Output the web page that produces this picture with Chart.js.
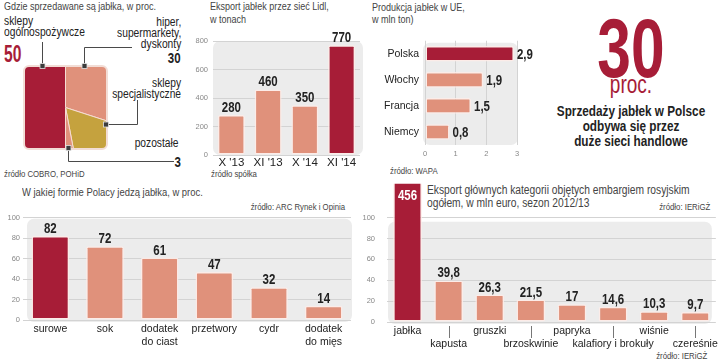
<!DOCTYPE html>
<html>
<head>
<meta charset="utf-8">
<script src="https://cdn.jsdelivr.net/npm/chart.js@4.4.1/dist/chart.umd.min.js"></script>
<style>
  body { margin: 0; width: 720px; height: 362px; background: #fff; position: relative; overflow: hidden;
         font-family: 'Liberation Sans', Arial, sans-serif; color: #222; }
  .t { position: absolute; white-space: pre; transform: scaleX(0.82); transform-origin: left; }
  .r { transform-origin: right; text-align: right; }
  .c { transform-origin: center; text-align: center; left: 531px; width: 200px; }
  .title { font-size: 11px; line-height: 12px; color: #444; }
  .src { font-size: 9.5px; line-height: 10px; color: #444; }
  .lbl { font-size: 12.5px; line-height: 11px; }
  .num { font-size: 14px; line-height: 14px; font-weight: bold; }
  canvas { position: absolute; }
</style>
</head>
<body>

<!-- texts -->
<div class="t title" style="left:4px;top:0">Gdzie sprzedawane są jabłka, w proc.</div>
<div class="t lbl" style="left:4px;top:16px">sklepy
ogólnospożywcze</div>
<div class="t" style="left:4px;top:42.5px;font-size:23px;line-height:23px;font-weight:bold;color:#a71d37;transform:scaleX(0.68)">50</div>
<div class="t lbl r" style="right:539px;top:16.5px">hiper,
supermarkety,
dyskonty</div>
<div class="t num r" style="right:539px;top:51.4px">30</div>
<div class="t lbl r" style="right:539px;top:78.3px">sklepy
specjalistyczne</div>
<div class="t lbl r" style="right:541px;top:137.5px">pozostałe</div>
<div class="t num r" style="right:539px;top:154.8px">3</div>
<div class="t src" style="left:4px;top:168.7px">źródło COBRO, POHiD</div>

<div class="t title" style="left:210px;top:0.4px;line-height:12.5px">Eksport jabłek przez sieć Lidl,
w tonach</div>
<div class="t src" style="left:211px;top:168.7px">źródło spółka</div>

<div class="t title" style="left:372px;top:0.7px">Produkcja jabłek w UE,
w mln ton)</div>
<div class="t src" style="left:390px;top:166.2px">źródło: WAPA</div>

<div class="t c" style="top:5.9px;font-size:84px;line-height:84px;font-weight:bold;color:#a71d37;transform:scaleX(0.72)">30</div>
<div class="t c" style="top:72.1px;font-size:25px;line-height:25px;color:#a71d37;transform:scaleX(0.76)">proc.</div>
<div class="t c" style="top:103.7px;font-size:14px;line-height:15px;font-weight:bold;color:#222;transform:scaleX(0.84)">Sprzedaży jabłek w Polsce
odbywa się przez
duże sieci handlowe</div>

<div class="t title" style="left:22px;top:185.7px;font-size:11.5px">W jakiej formie Polacy jedzą jabłka, w proc.</div>
<div class="t src r" style="right:375px;top:201.7px">źródło: ARC Rynek i Opinia</div>

<div class="t title" style="left:427px;top:184.2px;font-size:12.5px;line-height:13.3px">Eksport głównych kategorii objętych embargiem rosyjskim
ogółem, w mln euro, sezon 2012/13</div>
<div class="t src r" style="right:10px;top:201.7px">źródło: IERiGŻ</div>
<div class="t src r" style="right:13px;top:350.7px">źródło: IERiGŻ</div>

<!-- charts -->
<canvas id="shops" width="119" height="119" style="left:6px;top:48px"></canvas>
<canvas id="lidl" width="175" height="150" style="left:190px;top:30px"></canvas>
<canvas id="eu" width="180" height="131" style="left:365px;top:28px"></canvas>
<canvas id="forms" width="358" height="145" style="left:0;top:205px"></canvas>
<canvas id="emb" width="360" height="176" style="left:360px;top:178px"></canvas>

<!-- leader lines of the square pie -->
<svg width="720" height="362" style="position:absolute;left:0;top:0">
  <g stroke="#4a4a4a" stroke-width="1" fill="none">
    <path d="M42.5 66V42"/>
    <path d="M84.5 66V47.5H132"/>
    <path d="M106 124.5H137.5V100"/>
    <path d="M68.5 148V161.5H174"/>
  </g>
  <g fill="#3c3c3c" stroke="#e4e4e4" stroke-width="0.8">
    <rect x="40" y="63.5" width="5" height="5"/>
    <rect x="82" y="63.5" width="5" height="5"/>
    <rect x="103.5" y="122" width="5" height="5"/>
    <rect x="66" y="145.5" width="5" height="5"/>
  </g>
</svg>

<script>
// *** data for display ***
const SHOP_LABELS = ["hiper, supermarkety, dyskonty", "sklepy specjalistyczne", "pozostałe", "sklepy ogólnospożywcze"];
const SHOP_VALUES = [30, 17, 3, 50];

const LIDL_LABELS = ["X '13", "XI '13", "X '14", "XI '14"];
const LIDL_VALUES = [280, 460, 350, 770];
const LIDL_MAX = 800;

const EU_LABELS = ["Polska", "Włochy", "Francja", "Niemcy"];
const EU_VALUES = [2.9, 1.9, 1.5, 0.8];
const EU_MAX = 3;

const FORM_LABELS = ["surowe", "sok", ["dodatek", "do ciast"], "przetwory", "cydr", ["dodatek", "do mięs"]];
const FORM_VALUES = [82, 72, 61, 47, 32, 14];

const EMB_LABELS = ["jabłka", "kapusta", "gruszki", "brzoskwinie", "papryka", "kalafiory i brokuły", "wiśnie", "czereśnie"];
const EMB_VALUES = [456, 39.8, 26.3, 21.5, 17, 14.6, 10.3, 9.7];
const PCT_MAX = 100;

// *** colours ***
const DARK = "#a71d37", SALMON = "#e0917b", GOLD = "#c5a23e";
const BG = "#ececec", GRID = "#d3d3d3", RIM = "rgba(255,236,232,0.85)";
const FONT = "'Liberation Sans', Arial, sans-serif";
const NARROW = 0.82;

Chart.defaults.font.family = FONT;
Chart.defaults.color = "#222";
Chart.defaults.animation = false;
Chart.defaults.responsive = false;
Chart.defaults.plugins.legend.display = false;
Chart.defaults.plugins.tooltip.enabled = false;

const colorsFor = (values, hi) => values.map((v, i) => i === hi ? DARK : SALMON);

// *** grey rounded panel behind the plot ***
const bgPlugin = {
    id: 'bg',
    beforeDraw(chart, args, opts) {
        const a = chart.chartArea, c = chart.ctx, p = opts.pad || [0, 0, 0, 0];
        c.save();
        c.fillStyle = BG;
        c.beginPath();
        c.roundRect(a.left + p[0], a.top + p[1], a.width - p[0] + p[2], a.height - p[1] + p[3], opts.r || 7);
        c.fill();
        c.restore();
    }
};

// *** value labels (narrow bold) ***
const valuePlugin = {
    id: 'values',
    afterDatasetsDraw(chart, args, opts) {
        const c = chart.ctx, ds = chart.data.datasets[0], meta = chart.getDatasetMeta(0);
        const horiz = chart.options.indexAxis === 'y';
        c.save();
        c.scale(NARROW, 1);
        c.font = "bold 14px " + FONT;
        meta.data.forEach((bar, i) => {
            const v = ds.data[i], txt = String(v).replace('.', ',');
            if (horiz) {
                c.fillStyle = "#222"; c.textAlign = "left"; c.textBaseline = "middle";
                c.fillText(txt, (bar.x + 3) / NARROW, bar.y + 1);
            } else if (v > chart.scales.y.max) {
                c.fillStyle = "#fff"; c.textAlign = "center"; c.textBaseline = "middle";
                c.fillText(txt, bar.x / NARROW, chart.chartArea.top - opts.over + 12);
            } else {
                c.fillStyle = "#222"; c.textAlign = "center"; c.textBaseline = "alphabetic";
                c.fillText(txt, bar.x / NARROW, bar.y - 3);
            }
        });
        c.restore();
    }
};

// *** pie clipped to a rounded square ***
const squarePlugin = {
    id: 'square',
    beforeDatasetsDraw(chart, args, opts) {
        const c = chart.ctx, s = opts.size, x = (chart.width - s) / 2, y = (chart.height - s) / 2;
        c.save();
        c.beginPath();
        c.roundRect(x, y, s, s, 5);
        c.clip();
    },
    afterDatasetsDraw(chart, args, opts) {
        const c = chart.ctx, s = opts.size, x = (chart.width - s) / 2, y = (chart.height - s) / 2;
        c.restore();
        c.save();
        c.strokeStyle = "#f2ddd6";
        c.lineWidth = 2;
        c.beginPath();
        c.roundRect(x, y, s, s, 5);
        c.stroke();
        c.restore();
    }
};

// *** small tick lines under the second row of labels ***
const tickLinePlugin = {
    id: 'tickLines',
    afterDraw(chart) {
        const c = chart.ctx, x = chart.scales.x, b = chart.chartArea.bottom;
        c.save();
        c.strokeStyle = "#777";
        c.lineWidth = 1;
        chart.data.labels.forEach((l, i) => {
            if (i % 2) {
                const px = Math.round(x.getPixelForValue(i)) + 0.5;
                c.beginPath(); c.moveTo(px, b + 4); c.lineTo(px, b + 16); c.stroke();
            }
        });
        c.restore();
    }
};

const numTicks = { color: "#888", font: { size: 7.5 } };
const catTicks = { color: "#222", font: { size: 10.5, lineHeight: 1.28 }, maxRotation: 0, autoSkip: false };
const noGrid = { display: false, drawTicks: false };
const barSet = (values, hi, pct) => ({
    data: values,
    backgroundColor: colorsFor(values, hi),
    borderColor: RIM,
    borderWidth: 1.5,
    borderRadius: 2,
    borderSkipped: false,
    categoryPercentage: 1,
    barPercentage: pct
});

// *** shops ***
new Chart(document.getElementById("shops"), {
    type: 'pie',
    data: {
        labels: SHOP_LABELS,
        datasets: [{ data: SHOP_VALUES, backgroundColor: [SALMON, GOLD, SALMON, DARK], borderColor: "#f6dcd3", borderWidth: 1 }]
    },
    options: { plugins: { square: { size: 83 } } },
    plugins: [squarePlugin]
});

// *** Lidl ***
new Chart(document.getElementById("lidl"), {
    type: 'bar',
    data: { labels: LIDL_LABELS, datasets: [barSet(LIDL_VALUES, 3, 0.735)] },
    options: {
        layout: { padding: { top: 11, right: 5 } },
        scales: {
            x: { grid: noGrid, border: { display: false },
                 ticks: { ...catTicks, font: { size: 11.5 }, padding: 1 }, afterFit: s => { s.height = 25; } },
            y: { min: 0, max: LIDL_MAX, ticks: { ...numTicks, stepSize: 200, padding: 5 },
                 grid: { color: GRID, drawTicks: false }, border: { display: false }, afterFit: s => { s.width = 23; } }
        },
        plugins: { bg: { pad: [0, 0, 3, 0] } }
    },
    plugins: [bgPlugin, valuePlugin]
});

// *** EU production ***
new Chart(document.getElementById("eu"), {
    type: 'bar',
    data: { labels: EU_LABELS, datasets: [barSet(EU_VALUES, 0, 0.6)] },
    options: {
        indexAxis: 'y',
        layout: { padding: { top: 2, right: 28 } },
        scales: {
            x: { min: 0, max: EU_MAX, ticks: { ...numTicks, stepSize: 1, padding: 4 },
                 grid: { color: GRID, drawTicks: false }, border: { display: false }, afterFit: s => { s.height = 14; } },
            y: { grid: noGrid, border: { display: false },
                 ticks: { ...catTicks, padding: 6 }, afterFit: s => { s.width = 60; } }
        },
        plugins: { bg: { pad: [-2, 2, 1, 0] } }
    },
    plugins: [bgPlugin, valuePlugin]
});

// *** forms of eating ***
new Chart(document.getElementById("forms"), {
    type: 'bar',
    data: { labels: FORM_LABELS, datasets: [barSet(FORM_VALUES, 0, 0.69)] },
    options: {
        layout: { padding: { top: 12.7, right: 7 } },
        scales: {
            x: { grid: noGrid, border: { display: false },
                 ticks: { ...catTicks, padding: 2 }, afterFit: s => { s.height = 30; } },
            y: { min: 0, max: PCT_MAX, ticks: { ...numTicks, stepSize: 20, padding: 3 },
                 grid: { color: GRID, drawTicks: false }, border: { display: false }, afterFit: s => { s.width = 23; } }
        },
        plugins: { bg: { pad: [4, 1, 1, 2] } }
    },
    plugins: [bgPlugin, valuePlugin]
});

// *** embargo export ***
const embSet = barSet(EMB_VALUES, 0, 0.7);
embSet.clip = { left: 0, top: 34, right: 0, bottom: 0 };
new Chart(document.getElementById("emb"), {
    type: 'bar',
    data: { labels: EMB_LABELS, datasets: [embSet] },
    options: {
        layout: { padding: { top: 39.7, right: 4 } },
        scales: {
            x: { grid: noGrid, border: { display: false },
                 ticks: { ...catTicks, padding: 2,
                          callback: (v, i) => i % 2 ? ["", EMB_LABELS[i]] : EMB_LABELS[i] },
                 afterFit: s => { s.height = 32; } },
            y: { min: 0, max: PCT_MAX, ticks: { ...numTicks, stepSize: 20, padding: 12 },
                 grid: { color: GRID, drawTicks: false }, border: { display: false }, afterFit: s => { s.width = 27; } }
        },
        plugins: { bg: { pad: [1, 4, -4, 2] }, values: { over: 34 } }
    },
    plugins: [bgPlugin, valuePlugin, tickLinePlugin]
});
</script>
</body>
</html>
